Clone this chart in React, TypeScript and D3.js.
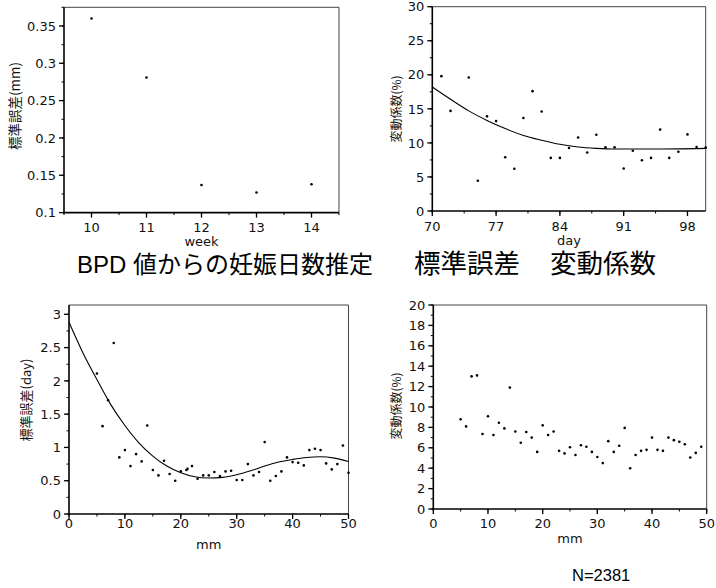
import React from "react";
import * as d3 from "d3";

// --- data ---
const weekX = [10, 11, 12, 13, 14];
const weekSD = [0.36, 0.281, 0.137, 0.127, 0.138];

const dayX = [71, 72, 74, 75, 76, 77, 78, 79, 80, 81, 82, 83, 84, 85, 86, 87, 88, 89, 90, 91, 92, 93, 94, 95, 96, 97, 98, 99, 100];
const dayCV = [19.8, 14.7, 19.6, 4.45, 13.9, 13.2, 7.9, 6.2, 13.65, 17.6, 14.6, 7.8, 7.8, 9.25, 10.8, 8.6, 11.2, 9.35, 9.35, 6.25, 8.85, 7.45, 7.8, 11.95, 7.8, 8.7, 11.25, 9.4, 9.3];
const dayFitX = [70, 72, 74, 76, 78, 80, 82, 84, 86, 88, 90, 94, 100];
const dayFitY = [18.2, 16.4, 14.7, 13.3, 12.1, 11.1, 10.4, 9.8, 9.4, 9.2, 9.1, 9.1, 9.2];

const mmX = [5, 6, 7, 8, 9, 10, 11, 12, 13, 14, 15, 16, 17, 18, 19, 20, 21, 21.2, 22, 23, 24, 25, 26, 27, 28, 29, 30, 31, 32, 33, 34, 35, 36, 37, 38, 39, 40, 41, 42, 43, 44, 45, 46, 47, 48, 49, 50];
const mmSD = [2.11, 1.32, 1.71, 2.57, 0.85, 0.96, 0.72, 0.9, 0.79, 1.33, 0.66, 0.58, 0.8, 0.6, 0.5, 0.64, 0.66, 0.68, 0.72, 0.53, 0.58, 0.58, 0.63, 0.57, 0.64, 0.65, 0.51, 0.51, 0.75, 0.58, 0.63, 1.08, 0.5, 0.57, 0.64, 0.85, 0.78, 0.77, 0.73, 0.96, 0.98, 0.96, 0.76, 0.67, 0.75, 1.03, 0.62];
const mmFitX = [0, 2.5, 5, 7.5, 10, 12.5, 15, 17.5, 20, 22.5, 25, 27.5, 30, 32.5, 35, 37.5, 40, 42.5, 45, 47.5, 50];
const mmFitY = [2.88, 2.42, 2.02, 1.64, 1.33, 1.07, 0.87, 0.72, 0.62, 0.56, 0.54, 0.55, 0.59, 0.65, 0.72, 0.78, 0.82, 0.85, 0.86, 0.84, 0.79];

const cvX = [5, 6, 7, 8, 9, 10, 11, 12, 13, 14, 15, 16, 17, 18, 19, 20, 21, 22, 23, 24, 25, 26, 27, 28, 29, 30, 31, 32, 33, 34, 35, 36, 37, 38, 39, 40, 41, 42, 43, 44, 45, 46, 47, 48, 49];
const cvY = [8.8, 8.1, 13.0, 13.1, 7.35, 9.1, 7.25, 8.45, 7.9, 11.9, 7.6, 6.5, 7.55, 7.0, 5.6, 8.2, 7.25, 7.6, 5.7, 5.45, 6.05, 5.3, 6.25, 6.1, 5.6, 5.1, 4.5, 6.65, 5.6, 6.2, 7.95, 4.0, 5.3, 5.7, 5.8, 7.0, 5.8, 5.7, 7.0, 6.75, 6.6, 6.35, 5.05, 5.5, 6.1];

const tickFont = "'DejaVu Sans', 'Liberation Sans', sans-serif";
const cjkFont = "'Noto Sans CJK JP', 'Liberation Sans', sans-serif";
const titleFont = "'Liberation Sans', 'Noto Sans CJK JP', sans-serif";

type PanelProps = {
    box: { left: number, right: number, top: number, bottom: number },
    xDomain: [number, number], yDomain: [number, number],
    xTicks: number[], xMinor: number[], yTicks: number[], yMinor: number[],
    xLabel: string, xLabelY: number, xTickGap: number,
    yLabel: string, yLabelX: number, yLabelY: number, yLabelSize: number,
    px: number[], py: number[],
    fx?: number[], fy?: number[],
};

const Panel = (p: PanelProps) => {
    const { box } = p;
    const x = d3.scaleLinear().domain(p.xDomain).range([box.left, box.right]);
    const y = d3.scaleLinear().domain(p.yDomain).range([box.bottom, box.top]);
    const line = d3.line<number>()
        .x((d, i) => x(p.fx![i]))
        .y(d => y(d))
        .curve(d3.curveMonotoneX);

    return (
        <g>
            {/* frame */}
            <line x1={box.left} x2={box.right} y1={box.top} y2={box.top} stroke="#444" strokeWidth={1} />
            <line x1={box.right} x2={box.right} y1={box.top} y2={box.bottom} stroke="#444" strokeWidth={1} />
            <line x1={box.left} x2={box.left} y1={box.top} y2={box.bottom + 1} stroke="#000" strokeWidth={1.6} />
            <line x1={box.left - 1} x2={box.right} y1={box.bottom} y2={box.bottom} stroke="#000" strokeWidth={1.6} />

            {p.xMinor.map((t, i) =>
                <line key={"xm" + i} x1={x(t)} x2={x(t)} y1={box.bottom} y2={box.bottom + 2.5} stroke="#000" />
            )}
            {p.xTicks.map((t, i) =>
                <g key={"x" + i} transform={`translate(${x(t)},${box.bottom})`}>
                    <line y2={5} stroke="#000" strokeWidth={1.3} />
                    <text y={p.xTickGap} textAnchor="middle" fontSize={13} fontFamily={tickFont} fill="#111">{t}</text>
                </g>
            )}
            {p.yMinor.map((t, i) =>
                <line key={"ym" + i} x1={box.left - 2.5} x2={box.left} y1={y(t)} y2={y(t)} stroke="#000" />
            )}
            {p.yTicks.map((t, i) =>
                <g key={"y" + i} transform={`translate(${box.left},${y(t)})`}>
                    <line x2={-5} stroke="#000" strokeWidth={1.3} />
                    <text x={-8} dy="0.36em" textAnchor="end" fontSize={13} fontFamily={tickFont} fill="#111">{String(t)}</text>
                </g>
            )}

            {p.fx && p.fy &&
                <path d={line(p.fy) || ""} fill="none" stroke="#000" strokeWidth={1.1} />
            }
            {p.px.map((v, i) =>
                <circle key={"p" + i} cx={x(v)} cy={y(p.py[i])} r={1.3} fill="#000" />
            )}

            <text x={(box.left + box.right) / 2} y={p.xLabelY} textAnchor="middle" fontSize={13} fontFamily={tickFont} fill="#111">{p.xLabel}</text>
            <text transform={`translate(${p.yLabelX},${p.yLabelY}) rotate(-90)`} textAnchor="middle" fontSize={p.yLabelSize} fontFamily={cjkFont} fill="#111">{p.yLabel}</text>
        </g>
    );
};

const steps = (a: number, b: number, s: number) => d3.range(a, b + s / 2, s).map(v => +v.toFixed(4));

export default function App() {
    return (
        <svg width={716} height={588} style={{ position: "absolute", left: 0, top: 0, background: "#fff" }}>
            <Panel
                box={{ left: 64, right: 339, top: 7.3, bottom: 212.6 }}
                xDomain={[9.5, 14.5]} yDomain={[0.1, 0.375]}
                xTicks={weekX} xMinor={steps(9.5, 14.5, 0.5)}
                yTicks={steps(0.1, 0.35, 0.05)} yMinor={steps(0.1, 0.375, 0.025)}
                xLabel="week" xLabelY={246} xTickGap={19.5}
                yLabel="標準誤差(mm)" yLabelX={20} yLabelY={106} yLabelSize={13.5}
                px={weekX} py={weekSD}
            />
            <Panel
                box={{ left: 432.3, right: 705.7, top: 6.7, bottom: 211 }}
                xDomain={[70, 100]} yDomain={[0, 30]}
                xTicks={[70, 77, 84, 91, 98]} xMinor={steps(70, 98, 3.5)}
                yTicks={steps(0, 30, 5)} yMinor={steps(0, 30, 2.5)}
                xLabel="day" xLabelY={245} xTickGap={20}
                yLabel="変動係数(%)" yLabelX={401} yLabelY={109} yLabelSize={12}
                px={dayX} py={dayCV} fx={dayFitX} fy={dayFitY}
            />
            <Panel
                box={{ left: 69, right: 348.5, top: 305, bottom: 514 }}
                xDomain={[0, 50]} yDomain={[0, 3.14]}
                xTicks={steps(0, 50, 10)} xMinor={steps(0, 50, 5)}
                yTicks={steps(0, 3, 0.5)} yMinor={steps(0, 3, 0.25)}
                xLabel="mm" xLabelY={549} xTickGap={14}
                yLabel="標準誤差(day)" yLabelX={31} yLabelY={400} yLabelSize={13}
                px={mmX} py={mmSD} fx={mmFitX} fy={mmFitY}
            />
            <Panel
                box={{ left: 433.3, right: 706.7, top: 305, bottom: 509 }}
                xDomain={[0, 50]} yDomain={[0, 20]}
                xTicks={steps(0, 50, 10)} xMinor={steps(0, 50, 5)}
                yTicks={steps(0, 20, 2)} yMinor={steps(0, 20, 1)}
                xLabel="mm" xLabelY={543} xTickGap={19}
                yLabel="変動係数(%)" yLabelX={401} yLabelY={406} yLabelSize={12}
                px={cvX} py={cvY}
            />

            <text x={77} y={273} fontSize={24} fontFamily={titleFont} fill="#000">BPD 値からの妊娠日数推定</text>
            <text x={414} y={273} fontSize={26.5} fontFamily={titleFont} fill="#000">標準誤差</text>
            <text x={656} y={273} fontSize={26.5} fontFamily={titleFont} fill="#000" textAnchor="end">変動係数</text>
            <text x={572} y={581} fontSize={16.5} fontFamily="'Liberation Sans', Arial, sans-serif" fill="#000">N=2381</text>
        </svg>
    );
}
